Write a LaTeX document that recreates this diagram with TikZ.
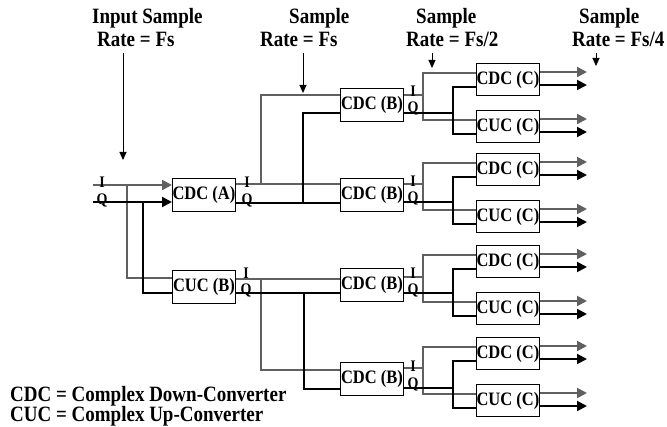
\documentclass[tikz,border=0pt]{standalone}
\usepackage{fontspec}
\usepackage{graphicx}
\setmainfont{Liberation Serif}
\usetikzlibrary{arrows.meta,calc}
\definecolor{lg}{RGB}{96,96,96}
\newcommand{\vtx}[1]{\scalebox{1}[1.15]{#1}}
\begin{document}
\begin{tikzpicture}[x=1pt,y=-1pt,
  box/.style={draw=black,line width=0.9pt,minimum width=63pt,minimum height=33pt,inner sep=0pt,anchor=north west,font=\bfseries\fontsize{16.5}{16.5}\selectfont},
  cbox/.style={box,minimum height=32pt},
  gl/.style={draw=lg,line width=2pt},
  bl/.style={draw=black,line width=2pt},
  garr/.style={gl,-{Triangle[length=10pt,width=10pt,fill=lg]}},
  barr/.style={bl,-{Triangle[length=10pt,width=10pt]}},
  rate/.style={draw=black,line width=1pt,-{Triangle[length=8pt,width=7pt]}},
  iq/.style={font=\bfseries\fontsize{14}{14}\selectfont,inner sep=0pt,anchor=base},
  hdr/.style={font=\bfseries\fontsize{19}{19}\selectfont,inner sep=0pt,anchor=base west},
]
\useasboundingbox (0,0) rectangle (667,427);

% boxes
\node[box] (A) at (172,178) {\vtx{CDC (A)}};
\node[box] (U) at (172,270) {\vtx{CUC (B)}};
\node[box] (B1) at (340,88) {\vtx{CDC (B)}};
\node[box] (B2) at (340,178) {\vtx{CDC (B)}};
\node[box] (B3) at (340,268) {\vtx{CDC (B)}};
\node[box] (B4) at (340,362) {\vtx{CDC (B)}};
\foreach \g/\dt/\et in {1/63/110,2/153/200,3/245/292,4/337/384}{
  \node[cbox] (D\g) at (476,\dt) {\vtx{CDC (C)}};
  \node[cbox] (E\g) at (476,\et) {\vtx{CUC (C)}};
}

\coordinate (inI) at (93,185);
\coordinate (inQ) at (93,202);

% gray (I) lines
\draw[garr] (inI) -- (A.west |- inI);
\draw[gl] (127,185) |- (U.west |- 0,278);
\draw[gl] (A.east |- 0,184) -- (B2.west |- 0,184);
\draw[gl] (261,184) |- (B1.west |- 0,95);
\draw[gl] (U.east |- 0,279) -- (B3.west |- 0,279);
\draw[gl] (261,279) |- (B4.west |- 0,370);
\foreach \g/\bi/\dt/\et in {1/95/63/110,2/184/153/200,3/277/245/292,4/368/337/384}{
  \draw[gl] (B\g.east |- 0,\bi) -- (423,\bi);
  \draw[gl] (D\g.west |- 0,\dt+10) -| (423,\et+10) -- (E\g.west |- 0,\et+10);
  \coordinate (oD\g) at (587,\dt+9);
  \coordinate (oE\g) at (587,\et+9);
  \draw[garr] (D\g.east |- oD\g) -- (oD\g);
  \draw[garr] (E\g.east |- oE\g) -- (oE\g);
}

% black (Q) lines
\draw[barr] (inQ) -- (A.west |- inQ);
\draw[bl] (143,202) |- (U.west |- 0,293);
\draw[bl] (A.east |- 0,203) -- (B2.west |- 0,203);
\draw[bl] (303,203) |- (B1.west |- 0,113);
\draw[bl] (U.east |- 0,293) -- (B3.west |- 0,293);
\draw[bl] (304,293) |- (B4.west |- 0,389);
\foreach \g/\bq/\dt/\et in {1/113/63/110,2/202/153/200,3/293/245/292,4/388/337/384}{
  \draw[bl] (B\g.east |- 0,\bq) -- (453,\bq);
  \draw[bl] (D\g.west |- 0,\dt+24) -| (453,\et+24) -- (E\g.west |- 0,\et+24);
  \coordinate (qD\g) at (587,\dt+22);
  \coordinate (qE\g) at (587,\et+22);
  \draw[barr] (D\g.east |- qD\g) -- (qD\g);
  \draw[barr] (E\g.east |- qE\g) -- (qE\g);
}

% I/Q labels
\node[iq] (l0i) at (102,188) {\vtx{I}};
\node[iq] (l0q) at (102,205) {\vtx{Q}};
\node[iq] (lAi) at (247,188) {\vtx{I}};
\node[iq] (lAq) at (247,205) {\vtx{Q}};
\node[iq] (lUi) at (246,279) {\vtx{I}};
\node[iq] (lUq) at (246,295) {\vtx{Q}};
\node[iq] (l1i) at (413,97) {\vtx{I}};
\node[iq] (l1q) at (413,113) {\vtx{Q}};
\node[iq] (l2i) at (413,187) {\vtx{I}};
\node[iq] (l2q) at (413,203) {\vtx{Q}};
\node[iq] (l3i) at (413,279) {\vtx{I}};
\node[iq] (l3q) at (413,295) {\vtx{Q}};
\node[iq] (l4i) at (413,372) {\vtx{I}};
\node[iq] (l4q) at (413,389) {\vtx{Q}};

% headers
\node[hdr] (h1a) at (92,24) {\vtx{Input Sample}};
\node[hdr] (h1b) at (97,47) {\vtx{Rate = Fs}};
\node[hdr] (h2a) at (289,24) {\vtx{Sample}};
\node[hdr] (h2b) at (260,47) {\vtx{Rate = Fs}};
\node[hdr] (h3a) at (416,24) {\vtx{Sample}};
\node[hdr] (h3b) at (406,47) {\vtx{Rate = Fs/2}};
\node[hdr] (h4a) at (579,24) {\vtx{Sample}};
\node[hdr] (h4b) at (572,47) {\vtx{Rate = Fs/4}};

\coordinate (r1s) at (123,53); \coordinate (r1e) at (123,160);
\coordinate (r2s) at (303,53); \coordinate (r2e) at (303,93);
\coordinate (r3s) at (432,53); \coordinate (r3e) at (432,68);
\coordinate (r4s) at (596,53); \coordinate (r4e) at (596,66);
\draw[rate] (r1s) -- (r1e);
\draw[rate] (r2s) -- (r2e);
\draw[rate] (r3s) -- (r3e);
\draw[rate] (r4s) -- (r4e);

% legend
\node[hdr] (leg1) at (10,402) {\vtx{CDC = Complex Down-Converter}};
\node[hdr] (leg2) at (10,422) {\vtx{CUC = Complex Up-Converter}};
\end{tikzpicture}
\end{document}
